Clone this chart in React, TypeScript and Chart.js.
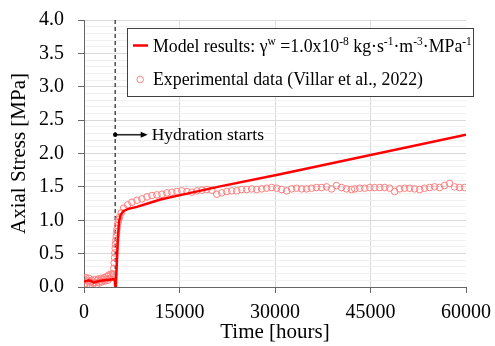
import { useEffect, useRef } from "react";
import { Chart, registerables } from "chart.js";

Chart.register(...registerables);

// ---- Data ----
const modelTimes = [0, 800, 1600, 2400, 3200, 4000, 4800, 4900, 5000, 5150, 5300, 5500, 5750, 6200, 7000, 8300, 10000, 12000, 14600, 21000, 30800, 60000];
const modelStress = [0.08, 0.1, 0.07, 0.09, 0.1, 0.11, 0.12, 0.02, 0.0, 0.35, 0.7, 0.98, 1.08, 1.14, 1.17, 1.2, 1.25, 1.31, 1.365, 1.5, 1.69, 2.28];

const expTimes = [
  0, 150, 300, 450, 600, 750, 900, 1050, 1200, 1350, 1500, 1650, 1800, 1950, 2100, 2250, 2400, 2550, 2700, 2850,
  3000, 3150, 3300, 3450, 3600, 3750, 3900, 4050, 4200, 4350, 4500,
  4600, 4680, 4740, 4800, 4850, 4900, 4950, 5000, 5060, 5120, 5180, 5260, 5350, 5450, 5600, 5850,
  6220, 6850, 7530, 8320, 9100, 9890, 10670, 11450, 12240, 13020, 13800, 14590, 15370, 16160, 16940, 17720,
  18510, 19290, 20070, 20860, 21640, 22420, 23210, 23990, 24770, 25560, 26340, 27120, 27910, 28690, 29470,
  30260, 31040, 31830, 32610, 33390, 34180, 34960, 35740, 36530, 37310, 38100, 38880, 39660, 40450, 41230,
  42010, 42530, 43310, 44100, 44880, 45660, 46450, 47230, 48010, 48800, 49580, 50360, 51150, 51930, 52720,
  53500, 54280, 55070, 55850, 56630, 57420, 58200, 58990, 59770,
];
const expStress = [
  0.12, 0.05, 0.14, 0.03, 0.09, 0.13, 0.04, 0.08, 0.1, 0.02, 0.06, 0.11, 0.07, 0.03, 0.1, 0.12, 0.06, 0.09, 0.13, 0.08,
  0.11, 0.14, 0.09, 0.12, 0.16, 0.1, 0.18, 0.13, 0.19, 0.15, 0.2,
  0.18, 0.28, 0.36, 0.44, 0.51, 0.58, 0.64, 0.7, 0.76, 0.82, 0.87, 0.92, 0.97, 1.01, 1.05, 1.11,
  1.18, 1.23, 1.27, 1.3, 1.32, 1.35, 1.37, 1.38, 1.39, 1.41, 1.42, 1.43, 1.44, 1.43, 1.42, 1.44,
  1.45, 1.46, 1.45, 1.39, 1.41, 1.43, 1.44, 1.44, 1.46, 1.46, 1.47, 1.46, 1.47, 1.48, 1.49,
  1.48, 1.46, 1.44, 1.47, 1.48, 1.47, 1.47, 1.48, 1.49, 1.49, 1.5, 1.47, 1.52, 1.49, 1.47,
  1.46, 1.47, 1.48, 1.48, 1.49, 1.49, 1.49, 1.49, 1.48, 1.43, 1.47, 1.48, 1.48, 1.47, 1.46,
  1.48, 1.49, 1.5, 1.49, 1.52, 1.55, 1.5, 1.49, 1.49,
];

const xTickValues = [0, 15000, 30000, 45000, 60000];
const yMin = 0;
const yMax = 4;
const hydrationTime = 4900;
const arrowEndTime = 10000;
const arrowStress = 2.28;

const modelLabel = ["Model results: γ", { sup: "w" }, " =1.0x10", { sup: "-8" }, " kg·s", { sup: "-1" }, "·m", { sup: "-3" }, "·MPa", { sup: "-1" }];
const expLabel = "Experimental data (Villar et al., 2022)";
const hydrationLabel = "Hydration starts";

const SERIF = "'Liberation Serif', 'Times New Roman', serif";
const MODEL_COLOR = "#ff0000";
const EXP_COLOR = "#ff8080";

const annotationPlugin = {
  id: "annotations",
  beforeDatasetsDraw(chart: any) {
    const { ctx, chartArea, scales } = chart;
    const x = scales.x.getPixelForValue(hydrationTime);
    ctx.save();
    ctx.strokeStyle = "#333";
    ctx.lineWidth = 1.3;
    ctx.setLineDash([4, 3]);
    ctx.beginPath();
    ctx.moveTo(x, chartArea.top);
    ctx.lineTo(x, chartArea.bottom);
    ctx.stroke();
    ctx.restore();
  },
  afterDraw(chart: any) {
    const { ctx, chartArea, scales } = chart;
    const x0 = scales.x.getPixelForValue(hydrationTime);
    const x1 = scales.x.getPixelForValue(arrowEndTime);
    const y = scales.y.getPixelForValue(arrowStress);
    ctx.save();
    // arrow
    ctx.strokeStyle = "#000";
    ctx.fillStyle = "#000";
    ctx.lineWidth = 1.3;
    ctx.beginPath();
    ctx.moveTo(x0, y);
    ctx.lineTo(x1 - 5, y);
    ctx.stroke();
    ctx.beginPath();
    ctx.moveTo(x1, y);
    ctx.lineTo(x1 - 7, y - 3);
    ctx.lineTo(x1 - 7, y + 3);
    ctx.closePath();
    ctx.fill();
    ctx.beginPath();
    ctx.arc(x0, y, 2.2, 0, Math.PI * 2);
    ctx.fill();
    ctx.font = `17.5px ${SERIF}`;
    ctx.textBaseline = "middle";
    ctx.textAlign = "left";
    ctx.fillText(hydrationLabel, x1 + 4, y + 1);

    // legend box
    const bx = chartArea.left + 43.5;
    const by = chartArea.top + 8.5;
    const bw = 346;
    const bh = 68;
    ctx.fillStyle = "#fff";
    ctx.fillRect(bx, by, bw, bh);
    ctx.strokeStyle = "#404040";
    ctx.lineWidth = 1;
    ctx.strokeRect(bx, by, bw, bh);

    // row 1
    const row1 = by + 23.2;
    ctx.strokeStyle = MODEL_COLOR;
    ctx.lineWidth = 2.5;
    ctx.beginPath();
    ctx.moveTo(bx + 5.5, by + 17);
    ctx.lineTo(bx + 20.5, by + 17);
    ctx.stroke();
    ctx.fillStyle = "#000";
    ctx.textBaseline = "alphabetic";
    let tx = bx + 25.5;
    for (const seg of modelLabel) {
      if (typeof seg === "string") {
        ctx.font = `17.8px ${SERIF}`;
        ctx.fillText(seg, tx, row1);
        tx += ctx.measureText(seg).width;
      } else {
        ctx.font = `11.5px ${SERIF}`;
        ctx.fillText(seg.sup, tx, row1 - 6.5);
        tx += ctx.measureText(seg.sup).width;
      }
    }
    // row 2
    const row2 = by + 56.5;
    ctx.strokeStyle = EXP_COLOR;
    ctx.lineWidth = 1;
    ctx.beginPath();
    ctx.arc(bx + 12.7, by + 51, 3.3, 0, Math.PI * 2);
    ctx.stroke();
    ctx.font = `17.8px ${SERIF}`;
    ctx.fillText(expLabel, bx + 25.5, row2);
    ctx.restore();
  },
};

export default function App() {
  const canvasRef = useRef<HTMLCanvasElement | null>(null);

  useEffect(() => {
    const canvas = canvasRef.current;
    if (!canvas) return;
    const modelData = modelTimes.map((t, i) => ({ x: t, y: modelStress[i] }));
    const expData = expTimes.map((t, i) => ({ x: t, y: expStress[i] }));
    const isMajorY = (v: number) => Math.round(v * 10) % 5 === 0;

    const chart = new Chart(canvas, {
      type: "line",
      data: {
        datasets: [
          {
            label: "Model",
            data: modelData,
            borderColor: MODEL_COLOR,
            borderWidth: 2.5,
            pointRadius: 0,
            tension: 0,
            fill: false,
          },
          {
            label: "Experimental",
            data: expData,
            showLine: false,
            borderColor: EXP_COLOR,
            backgroundColor: "rgba(0,0,0,0)",
            pointRadius: 3.3,
            pointBorderWidth: 1,
            pointStyle: "circle",
          },
        ],
      },
      options: {
        responsive: false,
        animation: false,
        events: [],
        layout: { padding: { left: 0, top: 20, right: 29, bottom: 0 } },
        plugins: {
          legend: { display: false },
          tooltip: { enabled: false },
        },
        scales: {
          x: {
            type: "linear",
            min: 0,
            max: 60000,
            afterBuildTicks: (scale: any) => {
              scale.ticks = xTickValues.map((v) => ({ value: v }));
            },
            afterFit: (scale: any) => {
              scale.height = 59;
              scale.paddingLeft = 0;
              scale.paddingRight = 0;
            },
            ticks: {
              autoSkip: false,
              maxRotation: 0,
              padding: 8,
              color: "#000",
              font: { family: SERIF, size: 20 },
              callback: (v: any) => String(v),
            },
            grid: {
              color: (c: any) =>
                c.tick && (c.tick.value === 0 || c.tick.value === 60000) ? "rgba(0,0,0,0)" : "#d9d9d9",
              tickColor: "#666",
              tickLength: 6,
              lineWidth: 1,
            },
            border: { display: true, color: "#666", width: 1 },
            title: {
              display: true,
              text: "Time [hours]",
              color: "#000",
              font: { family: SERIF, size: 21 },
              padding: { top: 0, bottom: 1 },
            },
          },
          y: {
            type: "linear",
            min: yMin,
            max: yMax,
            afterFit: (scale: any) => {
              scale.width = 84;
              scale.paddingTop = 0;
              scale.paddingBottom = 0;
            },
            ticks: {
              stepSize: 0.1,
              autoSkip: false,
              padding: 14,
              color: "#000",
              font: { family: SERIF, size: 20 },
              callback: (v: any) => (isMajorY(Number(v)) ? Number(v).toFixed(1) : ""),
            },
            grid: {
              color: (c: any) => (c.tick && isMajorY(c.tick.value) ? "#d9d9d9" : "#f0f0f0"),
              tickColor: (c: any) => (c.tick && isMajorY(c.tick.value) ? "#666" : "rgba(0,0,0,0)"),
              tickLength: 6,
              lineWidth: 1,
            },
            border: { display: true, color: "#666", width: 1 },
            title: {
              display: true,
              text: "Axial Stress [MPa]",
              color: "#000",
              font: { family: SERIF, size: 21 },
              padding: { top: 7, bottom: 0 },
            },
          },
        },
      },
      plugins: [annotationPlugin],
    } as any);

    return () => chart.destroy();
  }, []);

  return (
    <div style={{ position: "absolute", left: 0, top: 0, width: 495, height: 346, background: "#fff" }}>
      <canvas ref={canvasRef} width={495} height={346} style={{ display: "block" }} />
    </div>
  );
}
